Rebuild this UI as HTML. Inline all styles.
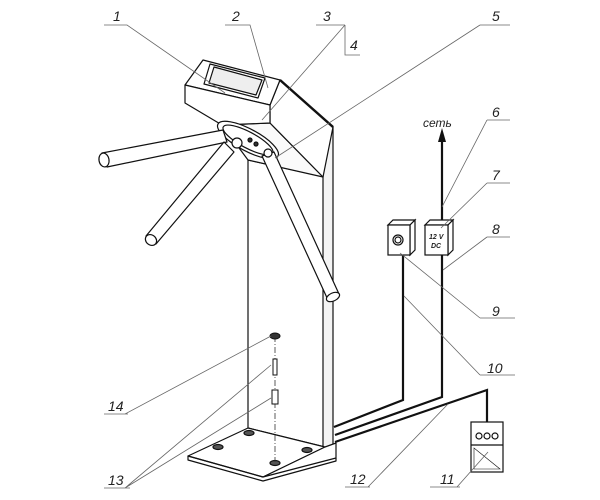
<!DOCTYPE html>
<html><head><meta charset="utf-8"><style>
html,body{margin:0;padding:0;background:#fff;}
svg{display:block}
text{font-family:"Liberation Sans",sans-serif;font-style:italic;font-size:14px;fill:#222}
</style></head><body>
<svg width="600" height="500" viewBox="0 0 600 500" xmlns="http://www.w3.org/2000/svg">
<g stroke="#111" stroke-width="1.2" fill="#fff" stroke-linejoin="round">
<!-- post -->
<path d="M248 160V428L325 447V177Z"/>
<path d="M323 177V447L333 455V127L323 135Z" fill="#f4f4f4"/>
<path d="M188 456L248 428L325 447L263 477Z"/>
<path d="M263 477L336 458V443L325 447Z"/>
<path d="M263 477L188 456L188 460L263 481L336 461V458" fill="none"/>
<!-- head -->
<path d="M222 125L270 123L323 177L248 160Z" fill="#fafafa"/>
<path d="M270 105L280 80L333 127L323 177L270 123Z"/>
<path d="M185 85L203 60L280 80L270 105Z"/>
<path d="M185 85L270 105V123L222 125L185 103Z"/>
<path d="M210 64L265 78L258 98L204 84Z"/>
<path d="M214 67L262 80L256 95L209 83Z" fill="#eee"/>
<line x1="280" y1="80" x2="333" y2="127" stroke-width="2.5"/>
<!-- hub -->
<ellipse cx="248" cy="140" rx="34" ry="11" transform="rotate(28 248 140)"/>
<ellipse cx="248" cy="140" rx="28" ry="8" transform="rotate(28 248 140)"/>
<circle cx="250" cy="140" r="2" fill="#333"/><circle cx="256" cy="144" r="2" fill="#333"/>
<!-- arms -->
<path d="M102 153L223 130L227 142L107 167Z"/>
<ellipse cx="104" cy="160" rx="5" ry="7" transform="rotate(-10 104 160)"/>
<path d="M224 142L234 152L156 244L146 236Z"/>
<ellipse cx="151" cy="240" rx="6" ry="5" transform="rotate(40 151 240)"/>
<path d="M262 156L274 152L339 294L328 300Z"/>
<ellipse cx="333" cy="297" rx="7" ry="4" transform="rotate(-25 333 297)"/>
<circle cx="237" cy="143" r="5"/>
<circle cx="268" cy="153" r="4"/>
<!-- holes -->
<ellipse cx="249" cy="433" rx="5" ry="2.5" fill="#555"/>
<ellipse cx="218" cy="447" rx="5" ry="2.5" fill="#555"/>
<ellipse cx="307" cy="450" rx="5" ry="2.5" fill="#555"/>
<ellipse cx="275" cy="463" rx="5" ry="2.5" fill="#555"/>
</g>
<line x1="275" y1="336" x2="275" y2="462" stroke="#333" stroke-width="0.8" stroke-dasharray="6 2 1 2"/>
<g stroke="#111" fill="#fff" stroke-width="1">
<ellipse cx="275" cy="336" rx="5" ry="3" fill="#333"/>
<rect x="273" y="359" width="4" height="16"/>
<rect x="272" y="390" width="6" height="14"/>
</g>
<!-- wires -->
<g stroke="#111" stroke-width="2.2" fill="none">
<path d="M442 140V397L335 435"/>
<path d="M403 255V400L334 427"/>
<path d="M335 442L487 390V422"/>
</g>
<path d="M442 128L438 142H446Z" fill="#111"/>
<!-- boxes -->
<g stroke="#111" stroke-width="1.2" fill="#fff">
<path d="M388 225L393 220H415L410 225Z"/>
<path d="M410 225L415 220V250L410 255Z"/>
<rect x="388" y="225" width="22" height="30"/>
<circle cx="398" cy="240" r="5"/><circle cx="398" cy="240" r="3"/>
<path d="M425 225L430 220H453L448 225Z"/>
<path d="M448 225L453 220V250L448 255Z"/>
<rect x="425" y="225" width="23" height="30"/>
<rect x="471" y="422" width="32" height="50"/>
<line x1="471" y1="445" x2="503" y2="445"/>
<path d="M474 448V469H500Z" fill="none" stroke-width="0.6"/>
<circle cx="479" cy="436" r="3"/><circle cx="487" cy="436" r="3"/><circle cx="495" cy="436" r="3"/>
</g>
<text x="429" y="239" style="font-size:7px;font-weight:bold">12 V</text>
<text x="431" y="248" style="font-size:7px;font-weight:bold">DC</text>
<g stroke="#666" stroke-width="0.8" fill="none">
<!-- leaders -->
<path d="M104 25H127L225 93"/>
<path d="M225 25H250L268 88"/>
<path d="M316 25H345M345 25V55H360M345 25L262 120"/>
<path d="M480 25H510M480 25L275 158"/>
<path d="M487 120H510M487 120L442 207"/>
<path d="M487 183H510M487 183L441 228"/>
<path d="M487 237H510M487 237L443 270"/>
<path d="M480 318H515M480 318L400 253"/>
<path d="M480 375H515M480 375L404 296"/>
<path d="M430 487H460M457 487L488 452"/>
<path d="M345 487H370M368 487L448 404"/>
<path d="M104 488H130M125 488L271 365M125 488L271 398"/>
<path d="M104 414H128M125 414L271 336"/>
</g>
<g>
<text x="113" y="21">1</text>
<text x="232" y="21">2</text>
<text x="323" y="21">3</text>
<text x="350" y="50">4</text>
<text x="492" y="21">5</text>
<text x="492" y="117">6</text>
<text x="492" y="180">7</text>
<text x="492" y="234">8</text>
<text x="492" y="316">9</text>
<text x="487" y="373">10</text>
<text x="440" y="484">11</text>
<text x="350" y="484">12</text>
<text x="108" y="485">13</text>
<text x="108" y="411">14</text>
<text x="423" y="127" style="font-size:12px">сеть</text>
</g>
</svg>
</body></html>
